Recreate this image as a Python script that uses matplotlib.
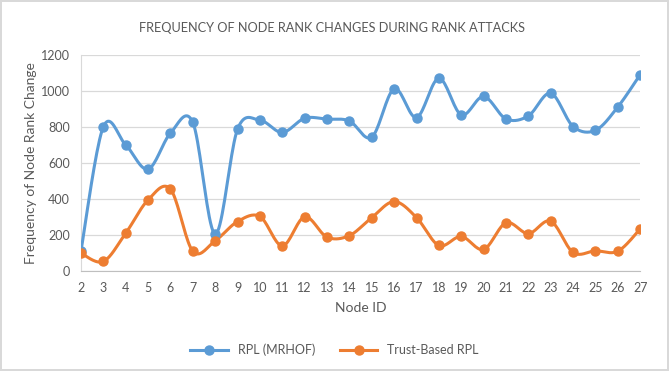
import numpy as np
import matplotlib
matplotlib.use("Agg")
import matplotlib.pyplot as plt
from matplotlib.lines import Line2D

node_ids = list(range(2, 28))
rpl_mrhof = [110, 800, 700, 565, 765, 825, 205, 787, 837, 769, 848, 843, 833,
             743, 1011, 852, 1070, 867, 969, 844, 861, 987, 802, 781, 911, 1091]
trust_rpl = [98, 52, 209, 394, 454, 109, 167, 274, 302, 139, 300, 187, 196,
             296, 385, 296, 141, 191, 119, 267, 207, 276, 102, 111, 109, 233]

blue = "#5B9BD5"
orange = "#ED7D31"
grey_txt = "#595959"

plt.rcParams['font.family'] = ['Lato', 'DejaVu Sans']


def smooth(x, y, n=20):
    # bezier curve like excel's smoothed line (catmull-rom control points)
    x = np.asarray(x, float)
    y = np.asarray(y, float)
    px = np.concatenate([[x[0]], x, [x[-1]]])
    py = np.concatenate([[y[0]], y, [y[-1]]])
    t = np.linspace(0, 1, n)
    xs, ys = [], []
    for i in range(len(x) - 1):
        p0 = np.array([px[i + 1], py[i + 1]])
        p3 = np.array([px[i + 2], py[i + 2]])
        c1 = p0 + (np.array([px[i + 2], py[i + 2]]) - np.array([px[i], py[i]])) / 6
        c2 = p3 - (np.array([px[i + 3], py[i + 3]]) - np.array([px[i + 1], py[i + 1]])) / 6
        b = ((1 - t) ** 3)[:, None] * p0 + (3 * (1 - t) ** 2 * t)[:, None] * c1 \
            + (3 * (1 - t) * t ** 2)[:, None] * c2 + (t ** 3)[:, None] * p3
        xs.append(b[:, 0])
        ys.append(b[:, 1])
    return np.concatenate(xs), np.concatenate(ys)


fig = plt.figure(figsize=(6.69, 3.71), dpi=100)
fig.patch.set_edgecolor("#d9d9d9")
fig.patch.set_linewidth(1.5)
ax = fig.add_axes([0.121, 0.270, 0.836, 0.582])

for vals, col in [(rpl_mrhof, blue), (trust_rpl, orange)]:
    sx, sy = smooth(node_ids, vals)
    ax.plot(sx, sy, color=col, lw=2.2, solid_capstyle="round", zorder=3)
    ax.plot(node_ids, vals, "o", color=col, ms=6.5, zorder=4)

ax.set_xlim(2, 27)
ax.set_ylim(0, 1200)
ax.set_xticks(node_ids)
ax.set_yticks(range(0, 1201, 200))
ax.grid(axis="y", color="#d9d9d9", lw=0.9)
ax.set_axisbelow(True)
for s in ["top", "right"]:
    ax.spines[s].set_visible(False)
ax.spines["bottom"].set_color("#bfbfbf")
ax.spines["left"].set_color("#d9d9d9")
ax.tick_params(length=0, labelsize=9, labelcolor=grey_txt)
ax.tick_params(axis="x", pad=8)
ax.tick_params(axis="y", pad=8)

ax.set_xlabel("Node ID", fontsize=10, color=grey_txt, labelpad=6)
ax.set_ylabel("Frequency of Node Rank Change", fontsize=10, color=grey_txt, labelpad=3)
fig.text(0.497, 0.925, "FREQUENCY OF NODE RANK CHANGES DURING RANK ATTACKS",
         ha="center", va="center", fontsize=9.2, color=grey_txt)

handles = [Line2D([], [], color=blue, lw=2.2, marker="o", ms=6.5),
           Line2D([], [], color=orange, lw=2.2, marker="o", ms=6.5)]
fig.legend(handles, ["RPL (MRHOF)", "Trust-Based RPL"], loc="center",
           bbox_to_anchor=(0.5, 0.057), ncol=2, frameon=False, fontsize=9,
           labelcolor=grey_txt, handlelength=3, columnspacing=2)

fig.savefig("out.png", dpi=100, edgecolor=fig.get_edgecolor())
